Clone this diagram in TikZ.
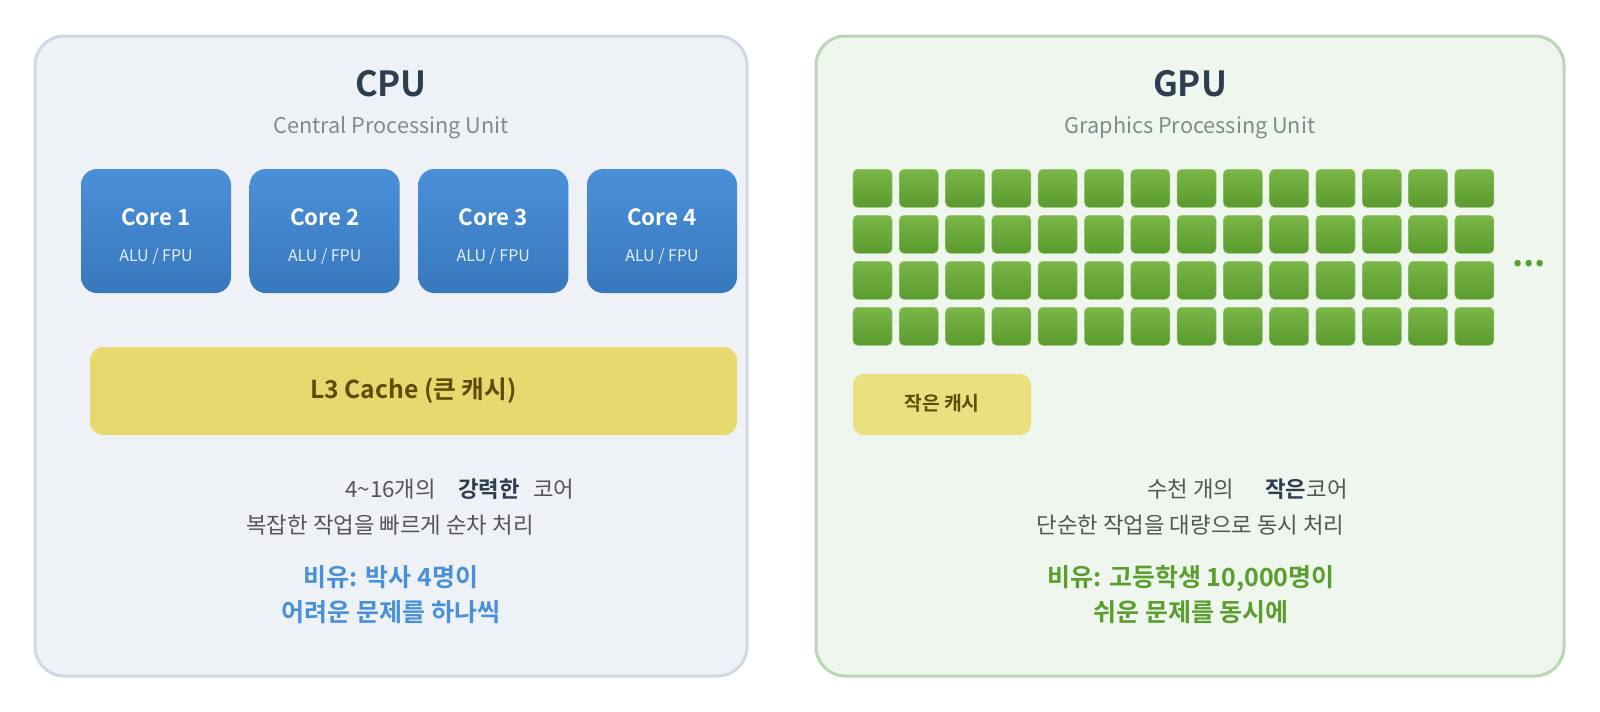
\documentclass[tikz,border=0pt]{standalone}
\usepackage{fontspec}
\setmainfont{Noto Sans CJK KR}[BoldFont={Noto Sans CJK KR Bold}]
\definecolor{cpubg}{HTML}{EEF2F7}
\definecolor{cpuborder}{HTML}{D0D8E1}
\definecolor{gpubg}{HTML}{EFF6EE}
\definecolor{gpuborder}{HTML}{B9D7B4}
\definecolor{titlec}{HTML}{2C3E50}
\definecolor{subc}{HTML}{7F8C8D}
\definecolor{coretop}{HTML}{4A90D9}
\definecolor{corebot}{HTML}{3878BD}
\definecolor{cachefill}{HTML}{E8D96E}
\definecolor{cachefill2}{HTML}{ECDF80}
\definecolor{cachetext}{HTML}{5E4C08}
\definecolor{bodyc}{HTML}{555555}
\definecolor{bluec}{HTML}{4A90D9}
\definecolor{greenc}{HTML}{5A9E2F}
\definecolor{celltop}{HTML}{7AB648}
\definecolor{cellbot}{HTML}{5A9A2E}
\begin{document}
\begin{tikzpicture}[x=0.75pt,y=-0.75pt,
  panel/.style={line width=2.25pt, rounded corners=22pt, minimum height=480pt, inner sep=0pt},
  corebox/.style={rounded corners=12pt, minimum width=112.5pt, minimum height=93pt, top color=coretop, bottom color=corebot, inner sep=0pt},
  cell/.style={rounded corners=3.5pt, minimum width=29.25pt, minimum height=28.5pt, top color=celltop, bottom color=cellbot, draw=celltop!80!white, line width=0.4pt, inner sep=0pt},
  title/.style={font=\fontsize{26pt}{29pt}\selectfont\bfseries, text=titlec, anchor=base, inner sep=0pt},
  subtitle/.style={font=\fontsize{16.25pt}{19pt}\selectfont, text=subc, anchor=base, inner sep=0pt},
  corelabel/.style={font=\fontsize{16.75pt}{19pt}\selectfont\bfseries, text=white, anchor=base, inner sep=0pt},
  alulabel/.style={font=\fontsize{12pt}{14pt}\selectfont, text=white!85!coretop, anchor=base, inner sep=0pt},
  cachelabel/.style={font=\fontsize{18.5pt}{21pt}\selectfont\bfseries, text=cachetext, anchor=base, inner sep=0pt},
  bodytext/.style={font=\fontsize{16.75pt}{19pt}\selectfont, text=bodyc, inner sep=0pt},
  boldtext/.style={font=\fontsize{16.75pt}{19pt}\selectfont\bfseries, text=titlec, inner sep=0pt},
  analogy/.style={font=\fontsize{18.75pt}{21pt}\selectfont\bfseries, anchor=base, inner sep=0pt},
]
\useasboundingbox (0,0) rectangle (1600,711);
\fill[white] (0,0) rectangle (1600,711);

% panels
\node[panel, draw=cpuborder, fill=cpubg, minimum width=534pt] (cpu) at (391,356) {};
\node[panel, draw=gpuborder, fill=gpubg, minimum width=561pt] (gpu) at (1190,356) {};

% CPU side
\node[title] (cputitle) at (391,96) {CPU};
\node[subtitle] (cpusub) at (391,133) {Central Processing Unit};

\foreach \i/\x in {1/156,2/324.7,3/493.3,4/662}{
  \node[corebox] (core\i) at (\x,231) {};
  \node[corelabel] (corel\i) at (\x,225) {Core \i};
  \node[alulabel] (alu\i) at (\x,261) {ALU / FPU};
}

\node[rounded corners=10pt, fill=cachefill, minimum width=485.25pt, minimum height=66pt, inner sep=0pt] (l3) at (413.5,391) {};
\node[cachelabel] (l3t) at (413.5,398.5) {L3 Cache (큰 캐시)};

\node[bodytext, anchor=base west] (c1a) at (345,497.5) {4\textasciitilde16개의};
\node[boldtext, anchor=base west] (c1b) at (458,497.5) {강력한};
\node[bodytext, anchor=base west] (c1c) at (533,497.5) {코어};
\node[bodytext, anchor=base] (c2) at (390,533) {복잡한 작업을 빠르게 순차 처리};

\node[analogy, text=bluec] (ca1) at (391,586) {비유: 박사 4명이};
\node[analogy, text=bluec] (ca2) at (391,621) {어려운 문제를 하나씩};

% GPU side
\node[title] (gputitle) at (1190,96) {GPU};
\node[subtitle] (gpusub) at (1190,133) {Graphics Processing Unit};

\foreach \i in {0,...,13}{
  \foreach \j in {0,...,3}{
    \node[cell] (cell-\i-\j) at ({872.5+46.3*\i},{188.3+46*\j}) {};
  }
}
\node[font=\fontsize{26pt}{28pt}\selectfont\bfseries, text=greenc, anchor=base, inner sep=0pt] (dots) at (1529,266) {...};

\node[rounded corners=8pt, fill=cachefill2, minimum width=133.5pt, minimum height=45.75pt, inner sep=0pt] (scache) at (942,404.5) {};
\node[font=\fontsize{14.5pt}{16pt}\selectfont\bfseries, text=cachetext, anchor=base, inner sep=0pt] (scachet) at (942,410.5) {작은 캐시};

\node[bodytext, anchor=base west] (g1a) at (1147,497.5) {수천 개의};
\node[boldtext, anchor=base west] (g1b) at (1265,497.5) {작은};
\node[bodytext, anchor=base west] (g1c) at (g1b.base east) {코어};
\node[bodytext, anchor=base] (g2) at (1190.5,533) {단순한 작업을 대량으로 동시 처리};

\node[analogy, text=greenc] (ga1) at (1191,586) {비유: 고등학생 10,000명이};
\node[analogy, text=greenc] (ga2) at (1191,621) {쉬운 문제를 동시에};
\end{tikzpicture}
\end{document}
